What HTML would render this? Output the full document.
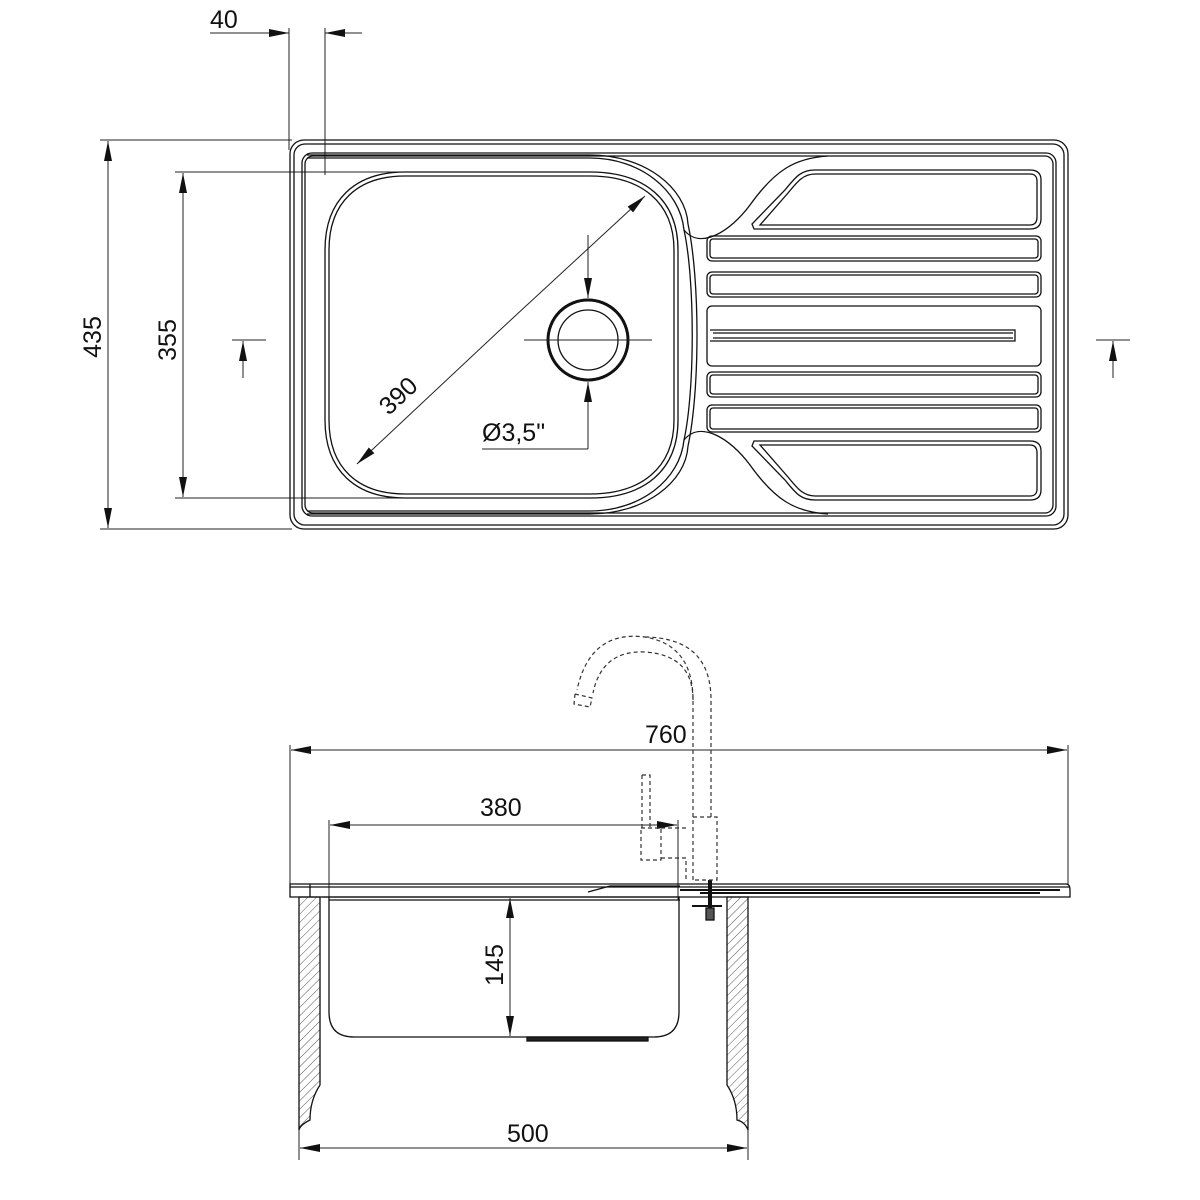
<!DOCTYPE html>
<html><head><meta charset="utf-8"><style>
html,body{margin:0;padding:0;background:#fff}
svg{display:block}
text{font-family:"Liberation Sans Narrow","Liberation Sans",sans-serif;font-size:25px;fill:#111}
</style></head><body>
<svg width="1200" height="1200" viewBox="0 0 1200 1200" xmlns="http://www.w3.org/2000/svg">
<defs>
<marker id="a" viewBox="0 0 20 8" refX="20" refY="4" markerWidth="20" markerHeight="8" markerUnits="userSpaceOnUse" orient="auto-start-reverse"><path d="M0,0 L20,4 L0,8 Z" fill="#111"/></marker>
<pattern id="h" width="6" height="6" patternUnits="userSpaceOnUse" patternTransform="rotate(45)"><line x1="0" y1="0" x2="0" y2="6" stroke="#555" stroke-width="1"/></pattern>
</defs>
<g fill="none" stroke="#222" stroke-width="1">
<line x1="289" y1="28" x2="289" y2="150"/>
<line x1="325" y1="28" x2="325" y2="175"/>
<line x1="210" y1="33" x2="289" y2="33" marker-end="url(#a)"/>
<line x1="362" y1="33" x2="325" y2="33" marker-end="url(#a)"/>
<line x1="100" y1="140" x2="292" y2="140"/>
<line x1="100" y1="529" x2="292" y2="529"/>
<line x1="108" y1="335" x2="108" y2="141" marker-end="url(#a)"/>
<line x1="108" y1="335" x2="108" y2="528" marker-end="url(#a)"/>
<line x1="175" y1="172" x2="410" y2="172"/>
<line x1="175" y1="498" x2="410" y2="498"/>
<line x1="183" y1="335" x2="183" y2="173" marker-end="url(#a)"/>
<line x1="183" y1="335" x2="183" y2="497" marker-end="url(#a)"/>
<line x1="232" y1="340" x2="266" y2="340"/>
<line x1="243" y1="378" x2="243" y2="341" marker-end="url(#a)"/>
<line x1="1096" y1="340" x2="1130" y2="340"/>
<line x1="1113" y1="378" x2="1113" y2="341" marker-end="url(#a)"/>
</g>
<g fill="none" stroke="#111" stroke-width="1.3">
<rect x="290" y="140" width="778" height="389" rx="14"/>
<rect x="294" y="144" width="770" height="381" rx="11"/>
<rect x="302" y="153" width="754" height="363" rx="10"/>
<rect x="305" y="156" width="748" height="357" rx="8"/>
<path d="M307,158 H590 C640,158 680,190 684,230 C700,250 730,232 750,205 C775,170 795,158 828,156"/>
<path d="M307,155 H590 C645,155 686,188 688,224"/>
<path d="M307,511 H590 C640,511 680,480 684,440 C700,420 730,438 750,465 C775,500 795,512 828,514"/>
<path d="M307,514 H590 C645,514 686,482 688,446"/>
<path d="M684,230 C695,280 695,390 684,440"/>
<path d="M688,224 C700,280 700,390 688,446"/>
<path d="M405,172 H590 C645,172 678,200 678,250 V420 C678,470 645,498 590,498 H405 C355,498 325,470 325,420 V250 C325,200 355,172 405,172 Z"/>
<path d="M405,176 H590 C641,176 674,202 674,250 V420 C674,468 641,494 590,494 H405 C358,494 329,468 329,420 V250 C329,202 358,176 405,176 Z"/>
<circle cx="588" cy="340" r="40" stroke-width="3"/>
<circle cx="588" cy="340" r="30"/>
<rect x="707" y="236" width="334" height="25" rx="5"/><rect x="710" y="239" width="328" height="19" rx="3"/>
<rect x="707" y="272" width="334" height="25" rx="5"/><rect x="710" y="275" width="328" height="19" rx="3"/>
<rect x="707" y="306" width="334" height="60" rx="5"/>
<path d="M710,330 H1015 V341 H710"/><path d="M713,333 H1013 M713,338 H1013"/>
<rect x="707" y="372" width="334" height="25" rx="5"/><rect x="710" y="375" width="328" height="19" rx="3"/>
<rect x="707" y="405" width="334" height="27" rx="5"/><rect x="710" y="408" width="328" height="21" rx="3"/>
<path d="M754,229 H1030 C1038,229 1041,225 1041,219 V180 C1041,174 1038,170 1030,170 H815 C800,170 795,178 785,190 L752,224 Z"/>
<path d="M760,225 H1030 C1035,225 1037,222 1037,217 V181 C1037,177 1035,174 1030,174 H815 C803,174 797,182 788,193 Z"/>
<path d="M754,441 H1030 C1038,441 1041,445 1041,451 V490 C1041,496 1038,500 1030,500 H815 C800,500 795,492 785,480 L752,446 Z"/>
<path d="M760,445 H1030 C1035,445 1037,448 1037,453 V489 C1037,493 1035,496 1030,496 H815 C803,496 797,488 788,477 Z"/>
</g>
<g fill="none" stroke="#222" stroke-width="1">
<line x1="524" y1="340" x2="652" y2="340"/>
<line x1="588" y1="235" x2="588" y2="298" marker-end="url(#a)"/>
<line x1="588" y1="449" x2="588" y2="382" marker-end="url(#a)"/>
<line x1="482" y1="449" x2="588" y2="449"/>
<line x1="500" y1="330" x2="357" y2="464" marker-end="url(#a)"/>
<line x1="500" y1="330" x2="645" y2="196" marker-end="url(#a)"/>
</g>
<text x="210" y="28">40</text>
<text transform="translate(101,337) rotate(-90)" text-anchor="middle">435</text>
<text transform="translate(176,340) rotate(-90)" text-anchor="middle">355</text>
<text transform="translate(404,402) rotate(-43)" text-anchor="middle">390</text>
<text x="482" y="441">Ø3,5"</text>

<g fill="none" stroke="#222" stroke-width="1">
<line x1="290" y1="745" x2="290" y2="885"/>
<line x1="1068" y1="745" x2="1068" y2="885"/>
<line x1="680" y1="750" x2="291" y2="750" marker-end="url(#a)"/>
<line x1="680" y1="750" x2="1067" y2="750" marker-end="url(#a)"/>
<line x1="329" y1="820" x2="329" y2="900"/>
<line x1="678" y1="820" x2="678" y2="900"/>
<line x1="500" y1="825" x2="330" y2="825" marker-end="url(#a)"/>
<line x1="500" y1="825" x2="677" y2="825" marker-end="url(#a)"/>
<line x1="510" y1="965" x2="510" y2="898" marker-end="url(#a)"/>
<line x1="510" y1="965" x2="510" y2="1036" marker-end="url(#a)"/>
<line x1="299" y1="1000" x2="299" y2="1160"/>
<line x1="748" y1="1000" x2="748" y2="1160"/>
<line x1="520" y1="1148" x2="300" y2="1148" marker-end="url(#a)"/>
<line x1="520" y1="1148" x2="747" y2="1148" marker-end="url(#a)"/>
</g>
<g fill="none" stroke="#111" stroke-width="1.3">
<path d="M290,897 V884 H1066 Q1070,884 1070,890 V897 Z"/>
<line x1="290" y1="887" x2="1070" y2="887"/>
<line x1="310" y1="884" x2="310" y2="897"/>
<line x1="322" y1="897" x2="680" y2="897"/>
<line x1="329" y1="900" x2="680" y2="900"/>
<path d="M329,897 V1012 Q329,1037 354,1037 H654 Q679,1037 679,1012 V897"/>
<rect x="527" y="1037" width="121" height="4" fill="#222"/>
<path d="M588,892 L610,886 H680"/>
<line x1="680" y1="890" x2="1060" y2="890" stroke-width="2"/>
<line x1="700" y1="893" x2="1040" y2="893" stroke-width="2"/>
<path d="M299,897 H320 V1085 Q310,1100 310,1120 Q300,1125 299,1130 Z" fill="url(#h)"/>
<path d="M727,897 H748 V1130 Q745,1122 737,1120 Q737,1100 727,1085 Z" fill="url(#h)"/>
<line x1="710" y1="880" x2="710" y2="915" stroke-width="4"/>
<line x1="692" y1="906" x2="722" y2="906" stroke-width="2"/>
<rect x="706" y="908" width="8" height="12" fill="#555"/>
</g>
<g fill="none" stroke="#333" stroke-width="1.2" stroke-dasharray="4,3">
<path d="M693,880 V817 H717 V880 Z"/>
<path d="M693,817 V700 Q693,645 645,637 Q590,630 577,690"/>
<path d="M711,817 V700 Q711,638 645,637"/>
<path d="M693,700 Q693,655 645,652 Q602,650 593,693"/>
<path d="M575,694 L592,698 L590,707 L574,704 Z"/>
<path d="M642,775 H650 V830 M642,775 V830"/>
<path d="M641,828 H661 V860 H641 Z"/>
<path d="M661,828 H687 M661,858 H686 V880"/>
</g>
<text x="645" y="743">760</text>
<text x="480" y="816">380</text>
<text transform="translate(503,965) rotate(-90)" text-anchor="middle">145</text>
<text x="507" y="1142">500</text>
</svg>
</body></html>
